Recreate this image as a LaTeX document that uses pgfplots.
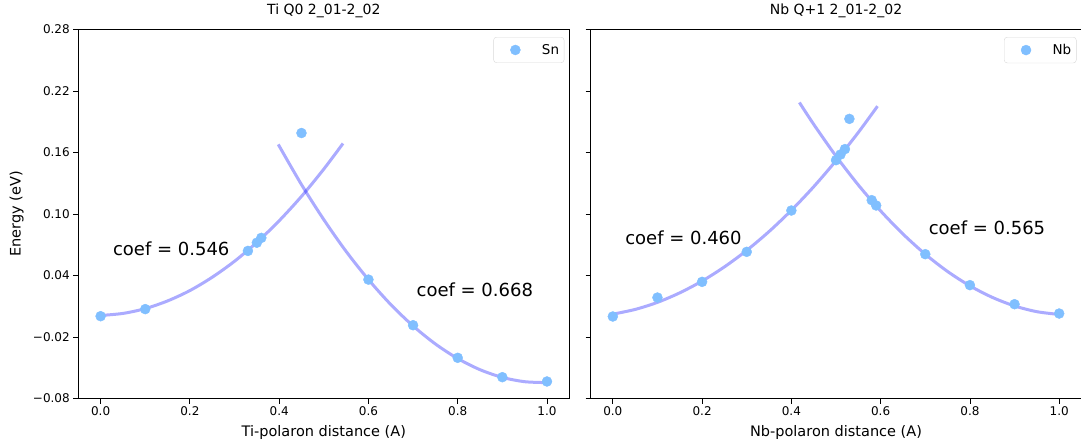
\documentclass[border=0pt]{standalone}
\usepackage{fontspec}
\setmainfont{DejaVu Sans}
\usepackage{pgfplots}
\usepackage{pgfplotstable}
\pgfplotsset{compat=1.18}

\definecolor{pointblue}{RGB}{128,191,255}

% ---- Ti Q0 panel ----
\pgfplotstableread{
x y
0.00 0.0003
0.10 0.0072
0.33 0.0640
0.35 0.0720
0.36 0.0767
0.45 0.1790
0.60 0.0360
0.70 -0.0085
0.80 -0.0403
0.90 -0.0592
1.00 -0.0634
}\tipoints

\pgfplotstableread{
x y
0.000 0.0010
0.050 0.0030
0.100 0.0077
0.150 0.0152
0.200 0.0253
0.250 0.0383
0.300 0.0539
0.350 0.0723
0.400 0.0934
0.450 0.1172
0.500 0.1438
0.543 0.1688
}\tifitleft

\pgfplotstableread{
x y
0.398 0.1679
0.450 0.1287
0.500 0.0945
0.550 0.0635
0.600 0.0360
0.650 0.0117
0.700 -0.0092
0.750 -0.0268
0.800 -0.0410
0.850 -0.0519
0.900 -0.0594
0.950 -0.0636
1.000 -0.0645
}\tifitright

% ---- Nb Q+1 panel ----
\pgfplotstableread{
x y
0.00 0.0000
0.10 0.0185
0.20 0.0338
0.30 0.0631
0.40 0.1034
0.50 0.1525
0.51 0.1580
0.52 0.1633
0.53 0.1928
0.58 0.1135
0.59 0.1083
0.70 0.0608
0.80 0.0306
0.90 0.0120
1.00 0.0029
}\nbpoints

\pgfplotstableread{
x y
0.000 0.0023
0.050 0.0069
0.100 0.0138
0.150 0.0231
0.200 0.0346
0.250 0.0484
0.300 0.0645
0.350 0.0829
0.400 0.1036
0.450 0.1266
0.500 0.1520
0.550 0.1796
0.593 0.2052
}\nbfitleft

\pgfplotstableread{
x y
0.418 0.2088
0.450 0.1875
0.500 0.1565
0.550 0.1283
0.600 0.1030
0.650 0.0805
0.700 0.0608
0.750 0.0439
0.800 0.0299
0.850 0.0187
0.900 0.0103
0.950 0.0047
1.000 0.0020
}\nbfitright

\pgfplotsset{
  panel/.style={
    scale only axis, width=491pt, height=369pt,
    xmin=-0.05, xmax=1.05, ymin=-0.08, ymax=0.28,
    xtick={0,0.2,0.4,0.6,0.8,1.0},
    xticklabels={0.0,0.2,0.4,0.6,0.8,1.0},
    ytick={-0.08,-0.02,0.04,0.10,0.16,0.22,0.28},
    tick align=outside, tick pos=left,
    major tick length=5pt,
    every tick/.style={black, line width=0.8pt},
    axis line style={line width=0.9pt},
    ticklabel style={font=\fontsize{12}{14}\selectfont},
    title style={at={(axis description cs:0.5,1.0257)}, anchor=base,
      font=\fontsize{14}{16}\selectfont},
    xlabel style={at={(axis description cs:0.5,-0.104)}, anchor=base,
      font=\fontsize{14.5}{16}\selectfont},
    ylabel style={at={(axis description cs:-0.1175,0.5)}, anchor=base,
      font=\fontsize{14.5}{16}\selectfont},
    legend style={at={(axis description cs:1,1)}, anchor=north east,
      xshift=-5pt, yshift=-7.5pt, draw=black!15, rounded corners=3pt,
      inner xsep=3pt, inner ysep=5pt,
      font=\fontsize{13.5}{15}\selectfont,
      /tikz/every odd column/.append style={column sep=0pt}},
    legend cell align=left,
    legend image code/.code={%
      \path (0pt,0pt) (43pt,0pt);
      \draw[##1] plot coordinates {(18.6pt,0pt)};},
  },
  fit/.style={blue, opacity=0.33, line width=3pt, smooth, no markers, forget plot},
  pts/.style={only marks, mark=*, mark size=5pt, pointblue, mark options={draw=pointblue, fill=pointblue}},
}
\tikzset{coef/.style={anchor=base west, font=\fontsize{18}{20}\selectfont}}

\begin{document}
\begin{tikzpicture}
\begin{axis}[panel, at={(78.3pt,46.5pt)}, anchor=south west,
  title={Ti Q0 2\_01-2\_02},
  xlabel={Ti-polaron distance (A)},
  ylabel={Energy (eV)},
  yticklabels={−0.08,−0.02,0.04,0.10,0.16,0.22,0.28}]
  \addplot[fit] table {\tifitleft};
  \addplot[fit] table {\tifitright};
  \addplot[pts] table {\tipoints};
  \addlegendentry{Sn}
  \node[coef] at (axis cs:0.02,0.06) {coef = 0.546};
  \node[coef] at (axis cs:0.70,0.02) {coef = 0.668};
\end{axis}
\begin{axis}[panel, at={(590.5pt,46.5pt)}, anchor=south west,
  title={Nb Q+1 2\_01-2\_02},
  xlabel={Nb-polaron distance (A)},
  yticklabels={}]
  \addplot[fit] table {\nbfitleft};
  \addplot[fit] table {\nbfitright};
  \addplot[pts] table {\nbpoints};
  \addlegendentry{Nb}
  \node[coef] at (axis cs:0.02,0.07) {coef = 0.460};
  \node[coef] at (axis cs:0.70,0.08) {coef = 0.565};
\end{axis}
\pgfresetboundingbox
\path (0,0) rectangle (1081pt,445pt);
\end{tikzpicture}
\end{document}
